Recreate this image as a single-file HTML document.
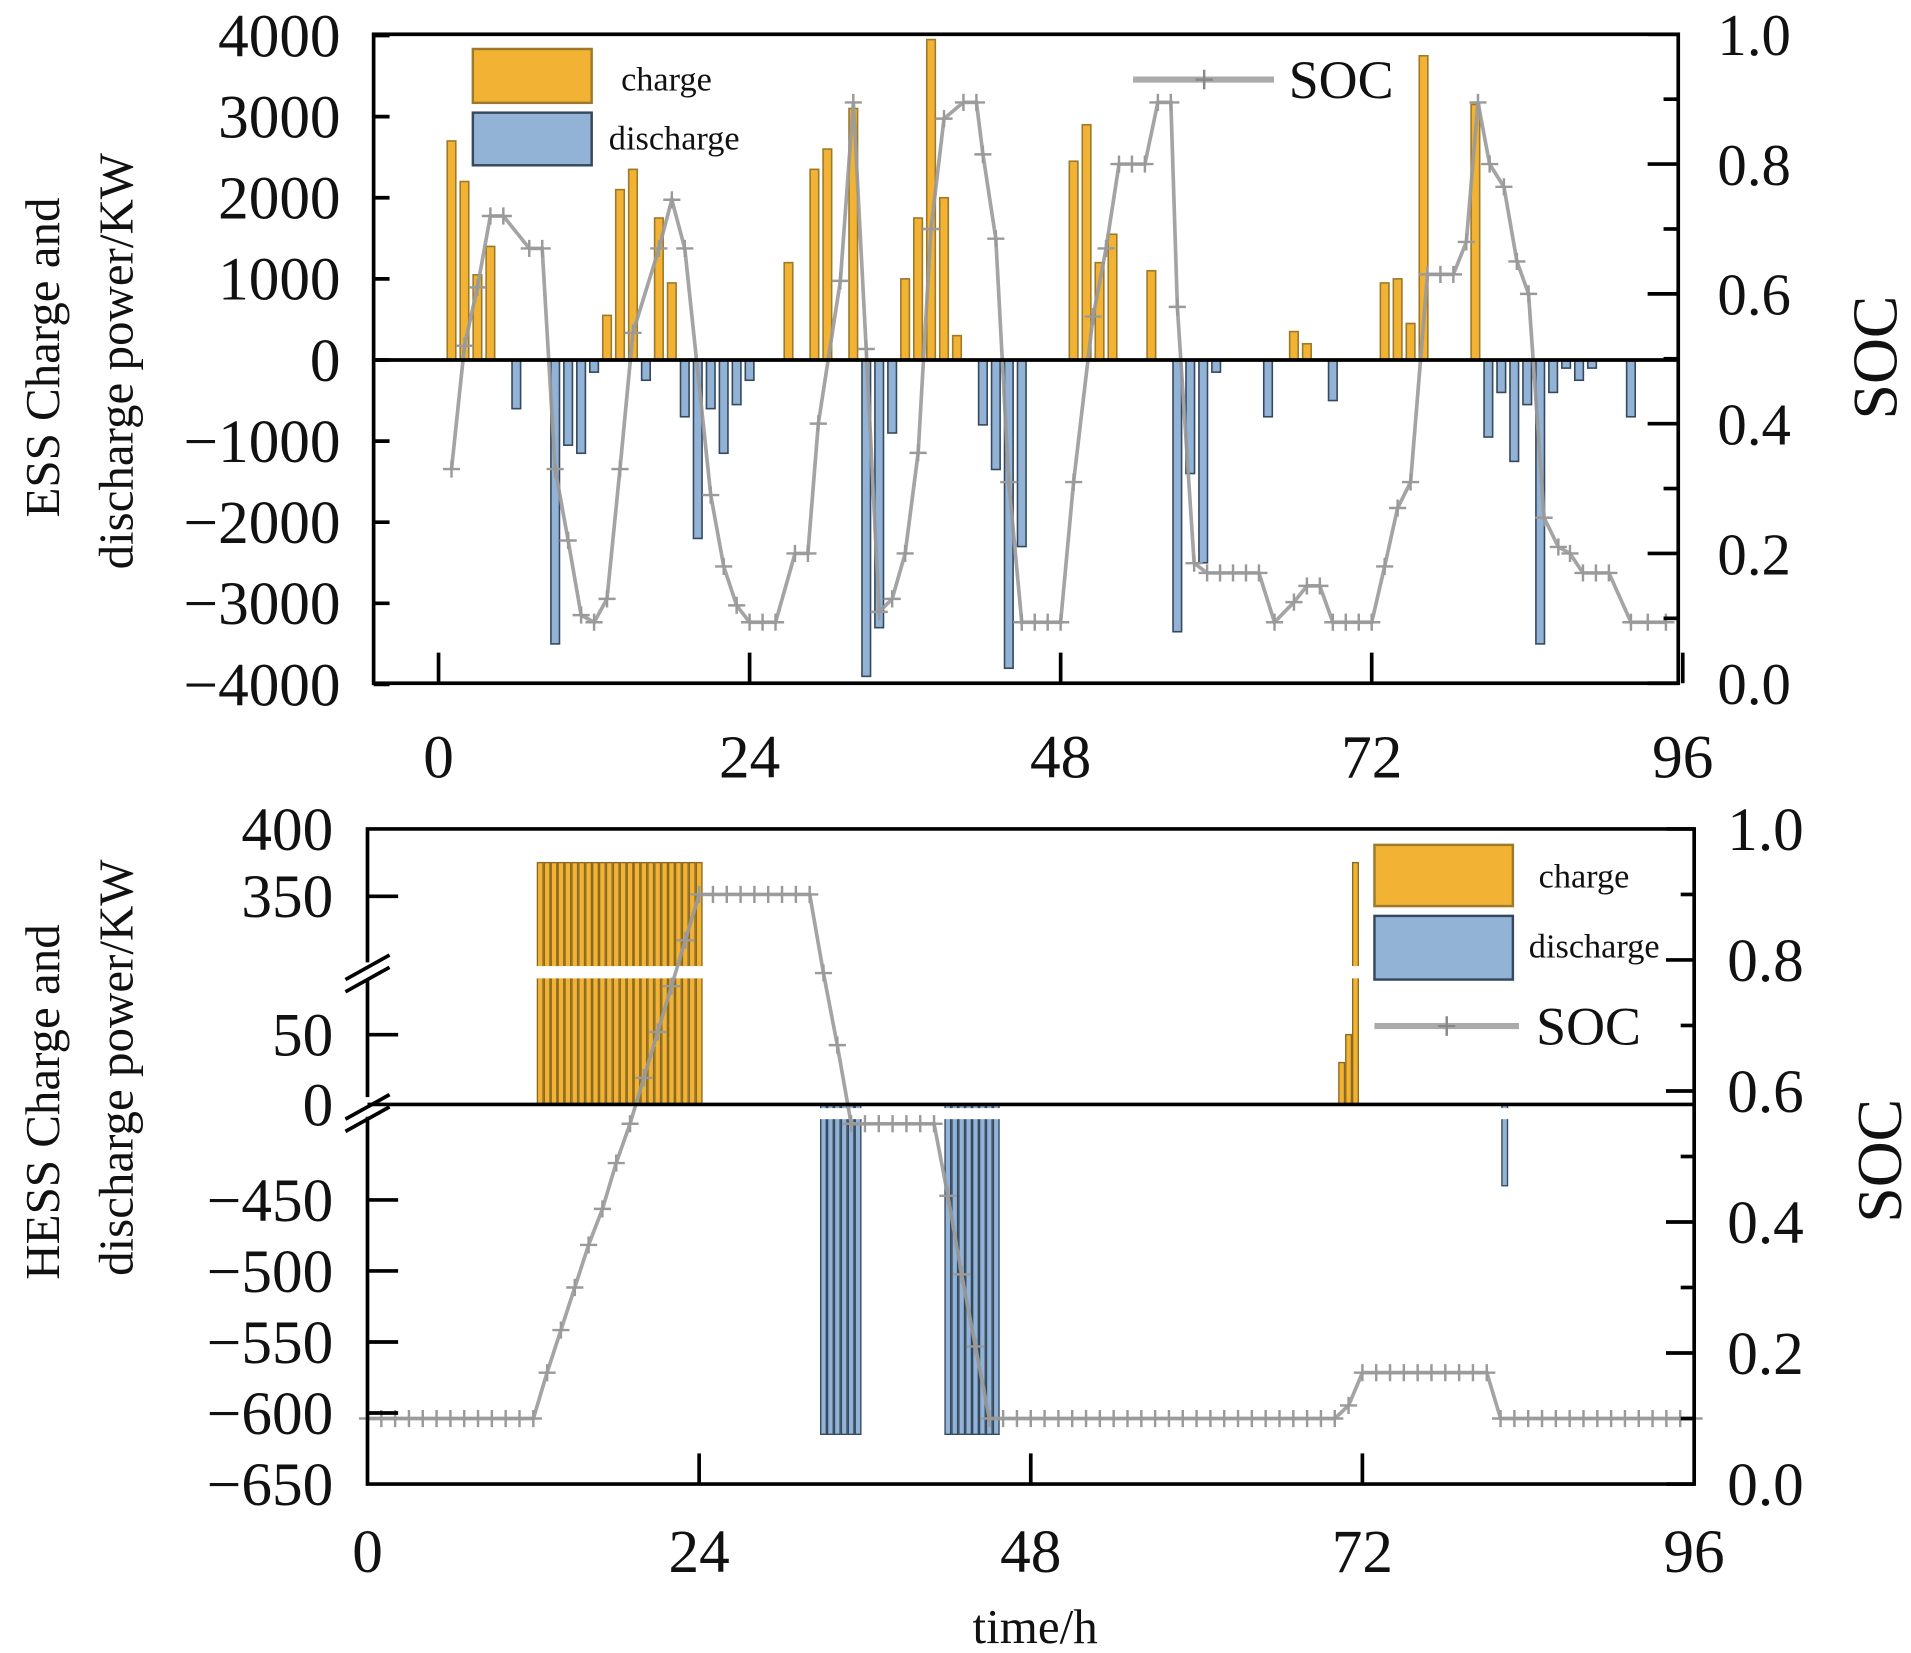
<!DOCTYPE html>
<html><head><meta charset="utf-8"><style>
html,body{margin:0;padding:0;background:#fff;}
svg{display:block;}
text{font-family:"Liberation Serif",serif;fill:#111;}
</style></head><body>
<svg id="chart" width="1911" height="1653" viewBox="0 0 1560 1350" preserveAspectRatio="none" xmlns="http://www.w3.org/2000/svg">
<g id="g"></g>
</svg>
<script>
// ---- ESS (top) data ----
const essT = [1,2,3,4,13,14,15,17,18,27,29,30,32,36,37,38,39,40,49,50,51,52,55,66,67,73,74,75,76,80,
  6,9,10,11,12,16,19,20,21,22,23,24,33,34,35,42,43,44,45,57,58,59,60,64,69,81,82,83,84,85,86,87,88,89,92];
const essV = [2700,2200,1050,1400,550,2100,2350,1750,950,1200,2350,2600,3100,1000,1750,3950,2000,300,2450,2900,1200,1550,1100,350,200,950,1000,450,3750,3150,
  -600,-3500,-1050,-1150,-150,-250,-700,-2200,-600,-1150,-550,-250,-3900,-3300,-900,-800,-1350,-3800,-2300,-3350,-1400,-2500,-150,-700,-500,-950,-400,-1250,-550,-3500,-400,-100,-250,-100,-700];
const socTopT = [1,2,3,4,5,7,8,9,10,11,12,13,14,15,17,18,19,21,22,23,24,25,26,27.5,28.5,29.3,31,32,33,34,35,36,37,38,39,40.5,41.5,42,43,44,45,46,47,48,49,50.5,51.5,52.5,53.5,54.5,55.5,56.5,57,58.3,59.3,60.3,61.3,62.3,63.3,64.5,66,67,68,69,70,71,72,73,74,75,76.3,77.3,78.3,79.3,80.2,81.1,82.2,83.2,84.1,85.3,86.4,87.3,88.3,89.3,90.3,92,93.3,94.7];
const socTopV = [0.33,0.52,0.61,0.72,0.72,0.67,0.67,0.33,0.22,0.105,0.094,0.13,0.33,0.54,0.67,0.745,0.67,0.29,0.18,0.12,0.094,0.094,0.094,0.2,0.2,0.4,0.62,0.895,0.515,0.11,0.13,0.2,0.355,0.7,0.87,0.895,0.895,0.815,0.685,0.31,0.094,0.094,0.094,0.094,0.31,0.565,0.67,0.8,0.8,0.8,0.895,0.895,0.58,0.185,0.17,0.17,0.17,0.17,0.17,0.094,0.125,0.15,0.15,0.094,0.094,0.094,0.094,0.18,0.27,0.31,0.63,0.63,0.63,0.68,0.895,0.8,0.765,0.65,0.6,0.255,0.21,0.2,0.17,0.17,0.17,0.094,0.094,0.094];
const topYTicks = [4000,3000,2000,1000,0,-1000,-2000,-3000,-4000];
const topYLabels = ["4000","3000","2000","1000","0","\u22121000","\u22122000","\u22123000","\u22124000"];
const xTicks = [0,24,48,72,96];
const socTicks = [0,0.2,0.4,0.6,0.8,1.0];
const socLabels = ["0.0","0.2","0.4","0.6","0.8","1.0"];

// ---- HESS (bottom) data ----
const hessT = [12.5,13,13.5,14,14.5,15,15.5,16,16.5,17,17.5,18,18.5,19,19.5,20,20.5,21,21.5,22,22.5,23,23.5,24,
  70.5,71,71.5, 33,33.5,34,34.5,35,35.5, 42,42.5,43,43.5,44,44.5,45,45.5, 82.3];
const hessV = [375,375,375,375,375,375,375,375,375,375,375,375,375,375,375,375,375,375,375,375,375,375,375,375,
  30,50,375, -615,-615,-615,-615,-615,-615, -615,-615,-615,-615,-615,-615,-615,-615, -440];
const socBotT = [0,1,2,3,4,5,6,7,8,9,10,11,12,13,14,15,16,17,18,19,20,21,22,23,24,25,26,27,28,29,30,31,32,33,34,35,36,37,38,39,40,41,42,43,44,45,46,47,48,49,50,51,52,53,54,55,56,57,58,59,60,61,62,63,64,65,66,67,68,69,70,71,72,73,74,75,76,77,78,79,80,81,82,83,84,85,86,87,88,89,90,91,92,93,94,95,96];
const socBotV = [0.1,0.1,0.1,0.1,0.1,0.1,0.1,0.1,0.1,0.1,0.1,0.1,0.1,0.17,0.235,0.3,0.365,0.42,0.49,0.55,0.62,0.69,0.76,0.83,0.9,0.9,0.9,0.9,0.9,0.9,0.9,0.9,0.9,0.78,0.67,0.55,0.55,0.55,0.55,0.55,0.55,0.55,0.44,0.32,0.21,0.1,0.1,0.1,0.1,0.1,0.1,0.1,0.1,0.1,0.1,0.1,0.1,0.1,0.1,0.1,0.1,0.1,0.1,0.1,0.1,0.1,0.1,0.1,0.1,0.1,0.1,0.12,0.17,0.17,0.17,0.17,0.17,0.17,0.17,0.17,0.17,0.17,0.1,0.1,0.1,0.1,0.1,0.1,0.1,0.1,0.1,0.1,0.1,0.1,0.1,0.1,0.1];
const botYTicks = [400,350,50,0,-450,-500,-550,-600,-650];
const botYLabels = ["400","350","50","0","\u2212450","\u2212500","\u2212550","\u2212600","\u2212650"];

const NS="http://www.w3.org/2000/svg";
const G=document.getElementById('g');
function el(tag,attrs,parent){const e=document.createElementNS(NS,tag);for(const k in attrs)e.setAttribute(k,attrs[k]);(parent||G).appendChild(e);return e;}
function txt(s,attrs,parent){const e=el('text',attrs,parent);e.textContent=s;return e;}

const xT=t=>358+t*10.58;
const yT=v=>294-v*0.06625;
const sT=s=>558-s*530;
const xB=t=>300+t*11.28;
function yB(v){ if(v>=300) return 787-(v-300)*1.1; if(v>=0) return 902-Math.min(v,100)*1.14; if(v<=-400) return 922+(-400-v)*1.16; return 902+(-v)/400*20; }
const sB=s=>1212-s*535;

const ORF="#f2b233", ORS="#9c7a2a", BLF="#92b2d6", BLS="#34495e";

function drawSOC(xs,ys,xf,yf,name){
  const g=el('g',{});
  
  
  const n=Math.min(xs.length,ys.length);
  let d='';for(let i=0;i<n;i++){d+=(i?'L':'M')+xf(xs[i]).toFixed(1)+' '+yf(ys[i]).toFixed(1);}
  el('path',{d:d,fill:'none',stroke:'#9a9a9a','stroke-width':3,opacity:0.9},g);
  for(let i=0;i<n;i++){const x=xf(xs[i]),y=yf(ys[i]);
    const p=el('path',{d:`M${x-7} ${y}H${x+7}M${x} ${y-7}V${y+7}`,stroke:'#9a9a9a','stroke-width':2,fill:'none'},g);
    
    
  }
}

// ===== TOP CHART =====
const topG=el('g',{});


essT.forEach((t,i)=>{const v=essV[i];const x=xT(t);const y0=yT(0),y1=yT(v);
  const r=el('rect',{x:x-3.5,y:Math.min(y0,y1),width:7,height:Math.abs(y1-y0),fill:v>0?ORF:BLF,stroke:v>0?ORS:BLS,'stroke-width':1.3},topG);
  
  
});
drawSOC(socTopT,socTopV,xT,sT,'ess-soc-line');
el('line',{x1:305,x2:1370,y1:yT(0),y2:yT(0),stroke:'#000','stroke-width':3});
el('rect',{x:305,y:28,width:1065,height:530,fill:'none',stroke:'#000','stroke-width':3});
topYTicks.forEach((v,i)=>{const y=yT(v);
  el('line',{x1:305,x2:318,y1:y,y2:y,stroke:'#000','stroke-width':3});
  const t=txt(topYLabels[i],{x:278,y:y+17,'text-anchor':'end','font-size':50});
  
  
});
for(let k=0;k<=10;k++){const y=sT(k/10);el('line',{x1:1370,x2:k%2?1358:1345,y1:y,y2:y,stroke:'#000','stroke-width':3});}
socTicks.forEach((s,i)=>{const t=txt(socLabels[i],{x:1402,y:sT(s)+17,'font-size':48});
  
  });
xTicks.forEach(v=>{const x=xT(v);el('line',{x1:x,x2:x,y1:558,y2:533,stroke:'#000','stroke-width':3});
  const t=txt(String(v),{x:x,y:635,'text-anchor':'middle','font-size':50});
  
  });
const lg1=el('g',{});


el('rect',{x:386,y:40,width:97,height:44,fill:ORF,stroke:ORS,'stroke-width':2},lg1);
el('rect',{x:386,y:92,width:97,height:43,fill:BLF,stroke:BLS,'stroke-width':2},lg1);
txt('charge',{x:507,y:74,'font-size':28},lg1);
txt('discharge',{x:497,y:122,'font-size':28},lg1);
el('line',{x1:925,x2:1040,y1:65,y2:65,stroke:'#aaa','stroke-width':5},lg1);
el('path',{d:'M983 57V73M976 65H990',stroke:'#888','stroke-width':2},lg1);
txt('SOC',{x:1052,y:80,'font-size':44},lg1);
let t1=txt('ESS Charge  and',{transform:'translate(48,292) rotate(-90)','text-anchor':'middle','font-size':40});

let t2=txt('discharge  power/KW',{transform:'translate(108,295) rotate(-90)','text-anchor':'middle','font-size':40});

let t3=txt('SOC',{transform:'translate(1548,292) rotate(-90)','text-anchor':'middle','font-size':52});


// ===== BOTTOM CHART =====
const botG=el('g',{});


hessT.forEach((t,i)=>{const v=hessV[i];const x=xB(t);const y0=yB(0),y1=yB(v);
  const r=el('rect',{x:x-2.3,y:Math.min(y0,y1),width:4.6,height:Math.abs(y1-y0),fill:v>0?ORF:BLF,stroke:v>0?'#8a6a20':BLS,'stroke-width':1.1},botG);
  
  
});
el('rect',{x:302,y:789,width:1075,height:10,fill:'#fff'},botG);
el('rect',{x:302,y:905,width:1075,height:9,fill:'#fff'},botG);
drawSOC(socBotT,socBotV,xB,sB,'hess-soc-line');
el('line',{x1:300,x2:1383,y1:902,y2:902,stroke:'#000','stroke-width':3});
el('path',{d:'M300 786V677H1383V1212H300V912M300 896V800',fill:'none',stroke:'#000','stroke-width':3});
el('path',{d:'M282 800L318 780M282 810L318 790M282 914L318 894M282 924L318 904',stroke:'#000','stroke-width':3});
botYTicks.forEach((v,i)=>{const y=yB(v);
  if(v!==400&&v!==-650&&v!==0) el('line',{x1:300,x2:325,y1:y,y2:y,stroke:'#000','stroke-width':3});
  const t=txt(botYLabels[i],{x:272,y:y+17,'text-anchor':'end','font-size':50});
  
  });
for(let k=0;k<=10;k++){const y=sB(k/10);el('line',{x1:1383,x2:k%2?1372:1360,y1:y,y2:y,stroke:'#000','stroke-width':3});}
socTicks.forEach((s,i)=>{const t=txt(socLabels[i],{x:1410,y:sB(s)+17,'font-size':50});
  
  });
xTicks.forEach(v=>{const x=xB(v);if(v>0&&v<96)el('line',{x1:x,x2:x,y1:1212,y2:1187,stroke:'#000','stroke-width':3});
  const t=txt(String(v),{x:x,y:1284,'text-anchor':'middle','font-size':50});
  
  });
const lg2=el('g',{});


el('rect',{x:1122,y:690,width:113,height:50,fill:ORF,stroke:ORS,'stroke-width':2},lg2);
el('rect',{x:1122,y:748,width:113,height:52,fill:BLF,stroke:BLS,'stroke-width':2},lg2);
txt('charge',{x:1256,y:725,'font-size':28},lg2);
txt('discharge',{x:1248,y:782,'font-size':28},lg2);
el('line',{x1:1122,x2:1240,y1:838,y2:838,stroke:'#aaa','stroke-width':5},lg2);
el('path',{d:'M1181 830V846M1174 838H1188',stroke:'#888','stroke-width':2},lg2);
txt('SOC',{x:1254,y:853,'font-size':44},lg2);
let t4=txt('HESS Charge  and',{transform:'translate(48,900) rotate(-90)','text-anchor':'middle','font-size':40});

let t5=txt('discharge  power/KW',{transform:'translate(108,872) rotate(-90)','text-anchor':'middle','font-size':40});

let t6=txt('SOC',{transform:'translate(1552,948) rotate(-90)','text-anchor':'middle','font-size':52});

let t7=txt('time/h',{x:845,y:1342,'text-anchor':'middle','font-size':40});

</script>
</body></html>
